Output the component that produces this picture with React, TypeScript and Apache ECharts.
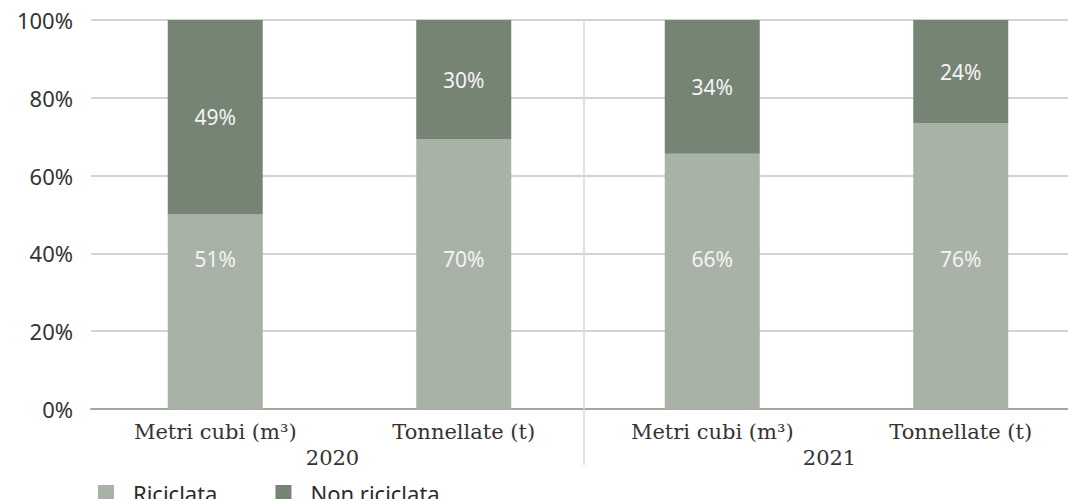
import React, { useEffect, useRef } from "react";
import * as echarts from "echarts";

const categories = ["Metri cubi (m³)", "Tonnellate (t)", "Metri cubi (m³)", "Tonnellate (t)"];
const years = ["2020", "2021"];
const yTicks = [0, 20, 40, 60, 80, 100];
// bar segment shares as drawn (percent of bar height)
const riciclataShare = [50, 69.4, 65.6, 73.5];
const nonRiciclataShare = [50, 30.6, 34.4, 26.5];
// data label texts as printed
const riciclataLabels = ["51%", "70%", "66%", "76%"];
const nonRiciclataLabels = ["49%", "30%", "34%", "24%"];

const seriesNames = ["Riciclata", "Non riciclata"];
const colors = ["#a9b2a6", "#768474"];

export default function App() {
  const ref = useRef<HTMLDivElement>(null);
  useEffect(() => {
    if (!ref.current) return;
    const chart = echarts.init(ref.current, null, { renderer: "svg" });
    const sans = "'Noto Sans', sans-serif";
    const serif = "'DejaVu Serif', serif";
    chart.setOption({
      animation: false,
      backgroundColor: "#ffffff",
      grid: { left: 91, width: 994, top: 20, bottom: 90, containLabel: false },
      legend: {
        data: seriesNames,
        left: 93,
        top: 477,
        icon: "rect",
        itemWidth: 16,
        itemHeight: 16,
        itemGap: 58,
        textStyle: { fontFamily: sans, fontSize: 22, color: "#2b2b2b", padding: [0, 0, 0, 14] },
      },
      xAxis: [
        {
          type: "category",
          data: categories,
          position: "bottom",
          axisLine: { show: true, lineStyle: { color: "#a6a6a6", width: 2 } },
          axisTick: { show: false },
          axisLabel: { fontFamily: serif, fontSize: 21, color: "#333333", margin: 12, interval: 0 },
          splitLine: { show: false },
        },
        {
          type: "category",
          data: years,
          position: "bottom",
          axisLine: { show: false },
          axisTick: { show: false },
          axisLabel: { fontFamily: serif, fontSize: 21, color: "#333333", margin: 38, interval: 0, padding: [0, 14, 0, 0] },
          splitLine: { show: false },
        },
      ],
      yAxis: {
        type: "value",
        min: yTicks[0],
        max: yTicks[yTicks.length - 1],
        interval: 20,
        axisLine: { show: false },
        axisTick: { show: false },
        axisLabel: { formatter: "{value}%", fontFamily: sans, fontSize: 22, color: "#333333", margin: 18 },
        splitLine: { show: true, lineStyle: { color: "#c4c4c4", width: 1.5 } },
      },
      graphic: [
        {
          type: "line",
          shape: { x1: 584, y1: 20, x2: 584, y2: 465 },
          style: { stroke: "#d9d9d9", lineWidth: 1.5 },
          z: 1,
        },
      ],
      series: [
        {
          name: seriesNames[0],
          type: "bar",
          stack: "total",
          barWidth: 95,
          itemStyle: { color: colors[0] },
          data: riciclataShare,
          label: {
            show: true,
            position: "insideBottom",
            distance: 140,
            fontFamily: sans,
            fontSize: 21,
            color: "#f4f4f4",
            formatter: (p: any) => riciclataLabels[p.dataIndex],
          },
          z: 3,
        },
        {
          name: seriesNames[1],
          type: "bar",
          stack: "total",
          barWidth: 95,
          itemStyle: { color: colors[1] },
          data: nonRiciclataShare,
          label: {
            show: true,
            position: "inside",
            fontFamily: sans,
            fontSize: 21,
            color: "#f4f4f4",
            formatter: (p: any) => nonRiciclataLabels[p.dataIndex],
          },
          z: 3,
        },
      ],
    });
    return () => chart.dispose();
  }, []);
  return (
    <div
      ref={ref}
      style={{ position: "fixed", left: 0, top: 0, width: 1090, height: 499, background: "#fff" }}
    />
  );
}
